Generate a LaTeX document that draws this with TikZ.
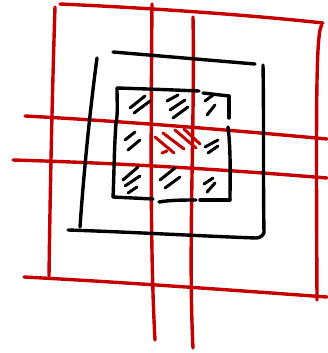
\documentclass[tikz,border=0pt]{standalone}
\definecolor{sketchred}{RGB}{196,0,0}
\begin{document}
\begin{tikzpicture}[x=1pt,y=-1pt,
  redline/.style={draw=sketchred,line width=3.4pt,line cap=round},
  blkline/.style={draw=black,line width=3.4pt,line cap=round},
  hatch/.style={draw=black,line width=3pt,line cap=round},
  redhatch/.style={draw=sketchred,line width=3pt,line cap=round}]
\useasboundingbox (0,0) rectangle (328,353);
% red grid
\draw[redline] (60,4) .. controls (150,8) and (250,15) .. (323,23);
\draw[redline] (55,7) .. controls (52,100) and (50,200) .. (49,276);
\draw[redline] (322,25) .. controls (316,30) and (316,100) .. (317,300);
\draw[redline] (24,277) .. controls (120,282) and (230,290) .. (327,297);
\draw[redline] (152,4) .. controls (151,120) and (150,250) .. (155,340);
\draw[redline] (193,17) .. controls (195,120) and (188,250) .. (193,348);
\draw[redline] (25,116) .. controls (120,121) and (230,130) .. (327,139);
\draw[redline] (13,160) .. controls (120,163) and (230,170) .. (327,178);
% outer black square
\draw[blkline] (113,52) -- (255,64);
\draw[blkline] (97,58) .. controls (90,110) and (84,170) .. (80,227);
\draw[blkline] (68,230) .. controls (130,232) and (200,236) .. (256,238) .. controls (260,238) and (262,236) .. (264,233);
\draw[blkline] (263,65) .. controls (264,120) and (263,180) .. (264,233);
% inner black square
\draw[blkline] (117,88) .. controls (150,89) and (175,90) .. (199,91);
\draw[blkline] (203,93) -- (229,96);
\draw[blkline] (117,88) .. controls (117,100) and (118,115) .. (116,123) .. controls (114,150) and (114,180) .. (113,197);
\draw[blkline] (113,197) -- (153,199);
\draw[blkline] (159,202) .. controls (170,200) and (185,200) .. (196,200);
\draw[blkline] (200,200) -- (230,200);
\draw[blkline] (229,96) -- (229,118);
\draw[blkline] (228,127) .. controls (231,150) and (230,180) .. (230,200);
% hatches
\draw[hatch] (130,108) -- (145,96);
\draw[hatch] (134,113) -- (150,101);
\draw[hatch] (167,101) -- (178,95);
\draw[hatch] (170,110) -- (185,100);
\draw[hatch] (173,118) -- (188,107);
\draw[hatch] (205,101) -- (213,95);
\draw[hatch] (207,115) -- (215,105);
\draw[hatch] (125,140) -- (135,132);
\draw[hatch] (128,150) -- (140,140);
\draw[hatch] (205,147) -- (218,140);
\draw[hatch] (208,153) -- (218,146);
\draw[hatch] (123,180) -- (138,167);
\draw[hatch] (125,186) -- (140,176);
\draw[hatch] (128,193) -- (137,187);
\draw[hatch] (160,180) -- (175,168);
\draw[hatch] (165,188) -- (180,177);
\draw[hatch] (204,184) -- (213,178);
\draw[hatch] (207,192) -- (215,183);
% red center hatches
\draw[redhatch] (155,137) -- (174,153);
\draw[redhatch] (163,133) -- (184,149);
\draw[redhatch] (175,130) -- (196,148);
\draw[redhatch] (184,129) -- (200,144);
\draw[redhatch] (162,153) -- (167,151);
\end{tikzpicture}
\end{document}
